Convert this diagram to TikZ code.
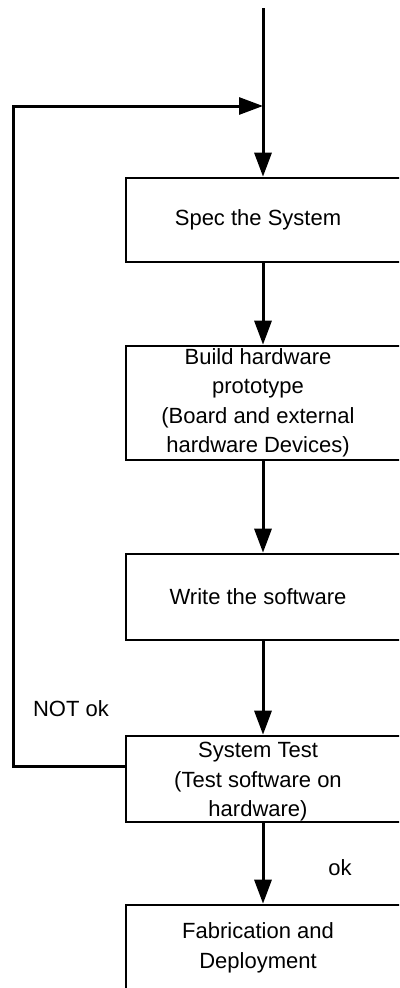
\documentclass[tikz,border=0pt]{standalone}
\usepackage{fontspec}
\setmainfont{Liberation Sans}
\usetikzlibrary{arrows.meta}
\begin{document}
\begin{tikzpicture}[x=1pt,y=-1pt,
  stepbox/.style={draw=black, line width=2.6pt, fill=white, inner sep=0pt,
    minimum width=280pt},
  boxtext/.style={align=center, xshift=-8pt, inner sep=0pt,
    font=\fontsize{22}{29.5}\selectfont},
  flow/.style={draw=black, line width=3pt,
    -{Triangle[length=24pt,width=17pt]}},
  plain/.style={draw=black, line width=3pt},
  lbl/.style={font=\fontsize{22}{26}\selectfont, inner sep=0pt}]
  \useasboundingbox (0,0) rectangle (399,988);
  \clip (0,0) rectangle (399,988);

  % process steps (boxes run past the right edge of the page)
  \node[stepbox, minimum height=84pt,
    label={[boxtext]center:Spec the System}] (spec) at (266,220) {};
  \node[stepbox, minimum height=114pt,
    label={[boxtext]center:{Build hardware\\prototype\\(Board and external\\hardware Devices)}}]
    (build) at (266,403) {};
  \node[stepbox, minimum height=86pt,
    label={[boxtext]center:Write the software}] (write) at (266,597) {};
  \node[stepbox, minimum height=86pt,
    label={[boxtext, yshift=-3pt]center:{System Test\\(Test software on\\hardware)}}]
    (test) at (266,779) {};
  \node[stepbox, minimum height=86pt,
    label={[boxtext]center:{Fabrication and\\Deployment}}] (fab) at (266,948) {};

  % entry line and loop junction
  \coordinate (entry) at (263,8);
  \coordinate (join)  at (263,106);
  \coordinate (loopbot) at (13,766);
  \coordinate (looptop) at (13,106);

  \draw[plain] (entry) -- (join);
  \draw[flow] (join) -- (spec.north -| entry);
  \draw[flow] (spec.south -| entry) -- (build.north -| entry);
  \draw[flow] (build.south -| entry) -- (write.north -| entry);
  \draw[flow] (write.south -| entry) -- (test.north -| entry);
  \draw[flow] (test.south -| entry) -- (fab.north -| entry);

  % failure loop back to the spec
  \draw[flow] ([yshift=13pt]test.west) -- (loopbot) -- (looptop) -- (join);

  \node[lbl] (notok) at (71,709) {NOT ok};
  \node[lbl] (ok) at (340,868) {ok};
\end{tikzpicture}
\end{document}
